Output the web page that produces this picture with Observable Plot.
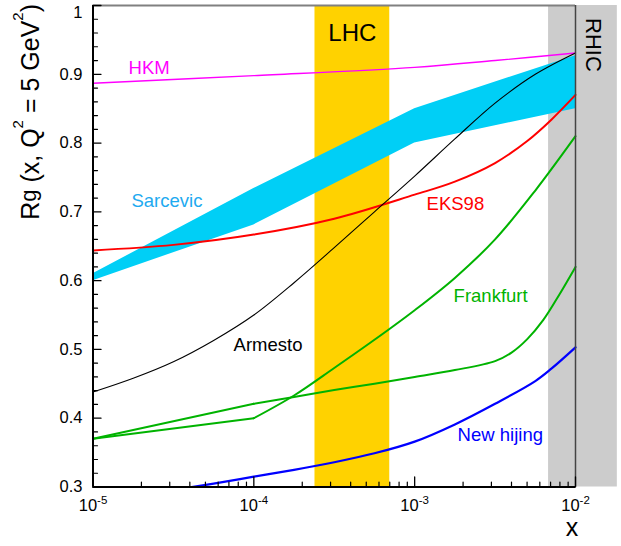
<!DOCTYPE html>
<html><head><meta charset="utf-8">
<script src="https://cdn.jsdelivr.net/npm/d3@7"></script>
<script src="https://cdn.jsdelivr.net/npm/@observablehq/plot@0.6"></script>
<style>body{margin:0;background:#fff}#chart svg{display:block}</style>
</head><body><div id="chart"></div>
<script>
// ---- data (x given as log10 exponents, y = R_g values) ----
const hkmLogX = [-5, -4, -3, -2.5, -2];
const hkmY    = [0.887, 0.898, 0.910, 0.920, 0.931];

const sarLogX  = [-5, -4, -3, -2];
const sarUpper = [0.610, 0.734, 0.850, 0.927];
const sarLower = [0.600, 0.681, 0.800, 0.850];

const eksLogX = [-5, -4.5, -4, -3.5, -3, -2.75, -2.5, -2.3, -2.15, -2];
const eksY    = [0.644, 0.652, 0.667, 0.690, 0.725, 0.744, 0.771, 0.803, 0.834, 0.870];

const armLogX = [-5, -4.75, -4.5, -4.25, -4, -3.75, -3.5, -3.25, -3, -2.75, -2.5, -2.25, -2];
const armY    = [0.438, 0.458, 0.482, 0.513, 0.550, 0.597, 0.648, 0.700, 0.752, 0.806, 0.858, 0.900, 0.931];

const frAStraightLogX = [-5, -4];
const frAStraightY    = [0.370, 0.400];
const frALogX = [-4, -3.75, -3.5, -3.25, -3, -2.75, -2.5, -2.25, -2];
const frAY    = [0.400, 0.433, 0.473, 0.514, 0.557, 0.604, 0.660, 0.731, 0.810];

const frBStraightLogX = [-5, -4];
const frBStraightY    = [0.370, 0.421];
const frBLogX = [-4, -3.75, -3.5, -3.25, -3, -2.75, -2.5, -2.4, -2.3, -2.2, -2.1, -2];
const frBY    = [0.421, 0.431, 0.441, 0.450, 0.460, 0.470, 0.483, 0.495, 0.515, 0.543, 0.580, 0.620];

const hijLogX = [-4.387, -4.25, -4, -3.75, -3.5, -3.25, -3, -2.75, -2.5, -2.25, -2.15, -2];
const hijY    = [0.300, 0.305, 0.315, 0.325, 0.336, 0.349, 0.366, 0.391, 0.421, 0.454, 0.472, 0.503];

// regions (x ranges)
const lhcRange  = [2.4e-4, 7.0e-4];
const rhicRange = [6.8e-3, 1.82e-2];

// curve labels: name, anchor log10(x), y
const labelNames = ["HKM", "Sarcevic", "EKS98", "Frankfurt", "Armesto", "New hijing"];
const labelLogX  = [-4.779, -4.761, -2.926, -2.758, -4.126, -2.733];
const labelY     = [0.909, 0.716, 0.711, 0.578, 0.506, 0.376];

// ticks
const xMajor = [1e-5, 1e-4, 1e-3, 1e-2];
const yMajor = [0.3, 0.4, 0.5, 0.6, 0.7, 0.8, 0.9, 1.0];

// ---- styles ----
const FONT = "'Liberation Sans', Arial, Helvetica, sans-serif";
const colors = {HKM: "#ff00ff", Sarcevic: "#1eaaf0", EKS98: "#ff0000", Frankfurt: "#00b300", Armesto: "#000000", "New hijing": "#0000ff"};

const rows = (lx, ys) => lx.map((e, i) => ({x: Math.pow(10, e), y: ys[i]}));
const sarRows = sarLogX.map((e, i) => ({x: Math.pow(10, e), lo: sarLower[i], hi: sarUpper[i]}));
const xMinor = [];
for (const d of [1e-5, 1e-4, 1e-3]) for (let k = 2; k <= 9; k++) xMinor.push(k * d);
const yMinor = d3.range(30, 100, 2).filter(v => v % 10 !== 0).map(v => v / 100);
const tickShape = {draw(ctx, l) { ctx.moveTo(0, 0); ctx.lineTo(0, -l); }};

const labels = labelNames.map((n, i) => ({name: n, x: Math.pow(10, labelLogX[i]), y: labelY[i]}));
const CURVE = "catmull-rom";

const chart = Plot.plot({
  width: 621, height: 546,
  marginLeft: 92.5, marginRight: 46, marginTop: 5, marginBottom: 59.5,
  style: {fontFamily: FONT, background: "white", overflow: "visible"},
  x: {type: "log", domain: [1e-5, 1e-2]},
  y: {domain: [0.3, 1.0]},
  marks: [
    Plot.rect([{x1: rhicRange[0], x2: rhicRange[1]}], {x1: "x1", x2: "x2", y1: () => 0.3, y2: () => 1.0, fill: "#cccccc"}),
    Plot.rect([{x1: lhcRange[0], x2: lhcRange[1]}], {x1: "x1", x2: "x2", y1: () => 0.3, y2: () => 1.0, fill: "#ffd200"}),
    Plot.areaY(sarRows, {x: "x", y1: "lo", y2: "hi", fill: "#00cff6"}),
    Plot.line(rows(hkmLogX, hkmY), {x: "x", y: "y", stroke: colors.HKM, strokeWidth: 1.4, curve: CURVE}),
    Plot.line(rows(eksLogX, eksY), {x: "x", y: "y", stroke: colors.EKS98, strokeWidth: 2, curve: CURVE}),
    Plot.line(rows(armLogX, armY), {x: "x", y: "y", stroke: "#000", strokeWidth: 1.1, curve: CURVE}),
    Plot.line(rows(frAStraightLogX, frAStraightY), {x: "x", y: "y", stroke: colors.Frankfurt, strokeWidth: 2}),
    Plot.line(rows(frALogX, frAY), {x: "x", y: "y", stroke: colors.Frankfurt, strokeWidth: 2, curve: CURVE}),
    Plot.line(rows(frBStraightLogX, frBStraightY), {x: "x", y: "y", stroke: colors.Frankfurt, strokeWidth: 2}),
    Plot.line(rows(frBLogX, frBY), {x: "x", y: "y", stroke: colors.Frankfurt, strokeWidth: 2, curve: CURVE}),
    Plot.line(rows(hijLogX, hijY), {x: "x", y: "y", stroke: colors["New hijing"], strokeWidth: 2.2, curve: CURVE}),
    // frame
    Plot.ruleY([1.0], {stroke: "#808080", strokeWidth: 2}),
    Plot.ruleX([1e-2], {stroke: "#444", strokeWidth: 1.5}),
    Plot.ruleX([1e-5], {stroke: "#000", strokeWidth: 2}),
    Plot.ruleY([0.3], {stroke: "#000", strokeWidth: 2}),
    // inward ticks
    Plot.vector(yMajor, {y: d => d, frameAnchor: "left", rotate: 90, length: 8, anchor: "start", shape: tickShape, stroke: "#000", strokeWidth: 1.3}),
    Plot.vector(yMinor, {y: d => d, frameAnchor: "left", rotate: 90, length: 4.5, anchor: "start", shape: tickShape, stroke: "#000", strokeWidth: 1.2}),
    Plot.vector(xMajor, {x: d => d, frameAnchor: "bottom", length: 10, anchor: "start", shape: tickShape, stroke: "#000", strokeWidth: 1.3}),
    Plot.vector(xMinor, {x: d => d, frameAnchor: "bottom", length: 5, anchor: "start", shape: tickShape, stroke: "#000", strokeWidth: 1.2}),
    Plot.axisY({ticks: yMajor, tickSize: 0, tickPadding: 10.5, label: null, fontSize: 16.5, tickFormat: d => String(+d.toFixed(1))}),
    Plot.axisX({ticks: xMajor, tickSize: 0, tickPadding: 12.5, label: null, fontSize: 16.5, tickFormat: d => "10^" + Math.round(Math.log10(d))}),
    // curve labels
    ...labels.map(l => Plot.text([l], {x: "x", y: "y", text: "name", fill: colors[l.name], textAnchor: "start", fontSize: 18.5})),
    Plot.text(["LHC"], {x: () => Math.sqrt(lhcRange[0] * lhcRange[1]), y: () => 0.960, text: d => d, fontSize: 24, fill: "#000"}),
    Plot.text(["RHIC"], {x: () => 0.01285, y: () => 0.9426, text: d => d, fontSize: 22, rotate: 90, fill: "#000"})
  ]
});

const svg = d3.select(chart);
svg.selectAll('g[aria-label="x-axis tick label"]').attr("font-size", 16.5);
svg.selectAll('g[aria-label="y-axis tick label"]').attr("font-size", 16.5);
svg.selectAll('g[aria-label="x-axis tick label"] text').each(function() {
  const t = d3.select(this);
  const [b, e] = t.text().split("^");
  t.text(null).attr("font-size", 16.5);
  t.append("tspan").attr("font-size", 16.5).text(b);
  t.append("tspan").attr("dy", -7).attr("font-size", 11.5).text(e);
});
svg.selectAll('g[aria-label="y-axis tick label"] text').each(function() {
  const t = d3.select(this);
  if (t.text() === "1") t.attr("dy", "0.44em");
});
// y-axis title
const yt = svg.append("text")
  .attr("transform", "translate(39,4) rotate(-90)")
  .attr("text-anchor", "end").attr("font-size", 25).attr("font-family", FONT).attr("fill", "#000");
yt.append("tspan").text("R");
yt.append("tspan").attr("font-size", 22).attr("dy", -3).text("g");
yt.append("tspan").attr("dy", 3).text(" (x, Q");
yt.append("tspan").attr("font-size", 15).attr("dy", -16).text("2");
yt.append("tspan").attr("dy", 16).text(" = 5 GeV");
yt.append("tspan").attr("font-size", 15).attr("dy", -16).text("2");
yt.append("tspan").attr("dy", 16).text(")");
// x-axis title
svg.append("text").attr("x", 572).attr("y", 536).attr("text-anchor", "middle")
  .attr("font-size", 25).attr("font-family", FONT).attr("fill", "#000").text("x");

document.getElementById("chart").appendChild(chart);
</script>
</body></html>
